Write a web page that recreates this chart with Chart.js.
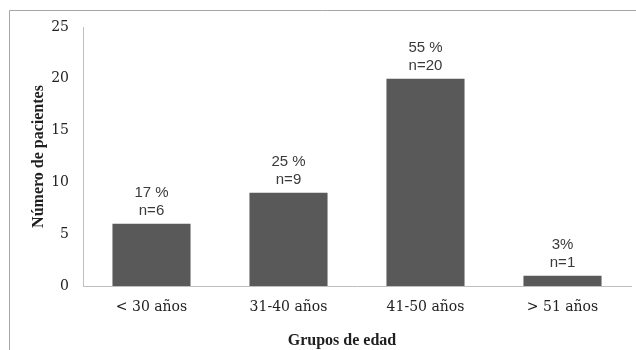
<!DOCTYPE html>
<html>
<head>
<meta charset="utf-8">
<script src="https://cdn.jsdelivr.net/npm/chart.js@4/dist/chart.umd.min.js"></script>
<style>
html,body{margin:0;padding:0;background:#fff;}
#wrap{width:636px;height:350px;position:relative;}
</style>
</head>
<body>
<div id="wrap"><canvas id="c" width="636" height="350"></canvas></div>
<script>
const categories = ["< 30 años", "31-40 años", "41-50 años", "> 51 años"];
const patients = [6, 9, 20, 1];
const percentLabels = ["17 %", "25 %", "55 %", "3%"];
const countLabels = ["n=6", "n=9", "n=20", "n=1"];
const yTicks = [0, 5, 10, 15, 20, 25];
const yTitle = "Número de pacientes";
const xTitle = "Grupos de edad";

const frame = {
  id: 'frame',
  beforeDraw(chart) {
    const ctx = chart.ctx;
    ctx.save();
    ctx.strokeStyle = '#a6a6a6';
    ctx.lineWidth = 1;
    ctx.beginPath();
    ctx.moveTo(9.5, 350);
    ctx.lineTo(9.5, 10.5);
    ctx.lineTo(636, 10.5);
    ctx.stroke();
    ctx.restore();
  }
};

const labels = {
  id: 'barLabels',
  afterDatasetsDraw(chart) {
    const ctx = chart.ctx;
    const meta = chart.getDatasetMeta(0);
    ctx.save();
    ctx.fillStyle = '#3a3a3a';
    ctx.font = '15px "Liberation Sans", Arial, sans-serif';
    ctx.textAlign = 'center';
    ctx.textBaseline = 'alphabetic';
    meta.data.forEach((bar, i) => {
      ctx.fillText(countLabels[i], bar.x, bar.y - 9);
      ctx.fillText(percentLabels[i], bar.x, bar.y - 27);
    });
    // x-axis title
    ctx.fillStyle = '#1f1f1f';
    ctx.font = 'bold 16px "Liberation Serif", serif';
    ctx.textBaseline = 'middle';
    ctx.fillText(xTitle, 342, 341);
    ctx.restore();
  }
};

new Chart(document.getElementById('c'), {
  type: 'bar',
  data: {
    labels: categories,
    datasets: [{
      data: patients,
      backgroundColor: '#595959',
      borderWidth: 0,
      categoryPercentage: 1,
      barPercentage: 0.57
    }]
  },
  options: {
    responsive: false,
    animation: false,
    devicePixelRatio: 1,
    layout: { padding: { left: 29, right: 5, top: 27, bottom: 0 } },
    plugins: { legend: { display: false }, tooltip: { enabled: false } },
    scales: {
      x: {
        grid: { display: false, drawTicks: false },
        border: { display: true, color: '#bfbfbf', width: 1 },
        ticks: { color: '#222', font: { family: '"DejaVu Serif", serif', size: 14 }, padding: 13, maxRotation: 0 },
        afterFit(scale) { scale.height = 64; }
      },
      y: {
        min: 0, max: 25,
        afterBuildTicks(scale) { scale.ticks = yTicks.map(v => ({ value: v })); },
        grid: { display: false, drawTicks: false },
        border: { display: true, color: '#bfbfbf', width: 1 },
        ticks: { color: '#222', font: { family: '"DejaVu Serif", serif', size: 14 }, padding: 14 },
        title: { display: true, text: yTitle, color: '#1f1f1f', font: { family: '"Liberation Serif", serif', size: 16, weight: 'bold' }, padding: 0 },
        afterFit(scale) { scale.width = 54; }
      }
    }
  },
  plugins: [frame, labels]
});
</script>
</body>
</html>
